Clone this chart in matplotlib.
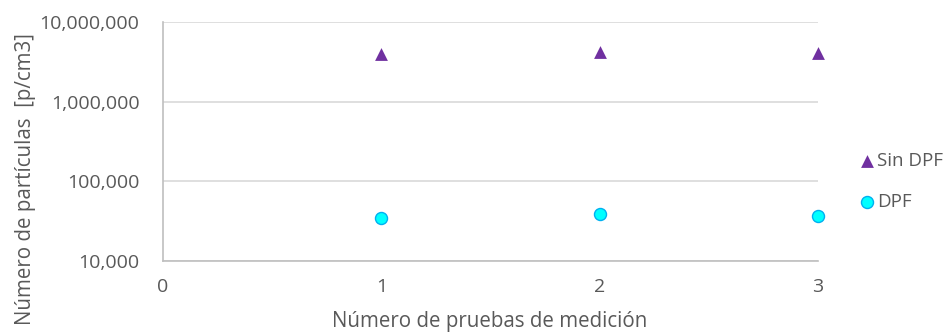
import matplotlib
matplotlib.use("Agg")
import matplotlib.pyplot as plt
from matplotlib.ticker import FuncFormatter, FixedLocator, NullLocator

plt.rcParams['font.family'] = ['Open Sans', 'DejaVu Sans']

pruebas = [1, 2, 3]
sin_dpf = [4020000, 4260000, 4130000]
dpf = [34500, 39200, 36600]
x_ticks = [0, 1, 2, 3]
y_ticks = [1e4, 1e5, 1e6, 1e7]

txt = '#595959'
fig = plt.figure(figsize=(9.44, 3.33), dpi=100)
ax = fig.add_axes([163/944, 1-261/333, (818-163)/944, (261-22)/333])

ax.scatter(pruebas, sin_dpf, marker='^', s=85, color='#7030A0', label='Sin DPF',
           zorder=3, linewidths=0, clip_on=False)
ax.scatter(pruebas, dpf, marker='o', s=75, facecolor='#00FFFF', edgecolor='#00B0F0',
           linewidths=1.0, label='DPF', zorder=3, clip_on=False)

ax.set_yscale('log')
ax.set_ylim(1e4, 1e7)
ax.set_xlim(0, 3)
ax.yaxis.set_major_locator(FixedLocator(y_ticks))
ax.yaxis.set_minor_locator(NullLocator())
ax.yaxis.set_major_formatter(FuncFormatter(lambda v, p: f'{int(round(v)):,}'))
ax.set_xticks(x_ticks)

ax.grid(axis='y', color='#d9d9d9', linewidth=1.2)
ax.set_axisbelow(True)
for s in ['top', 'right']:
    ax.spines[s].set_visible(False)
ax.spines['left'].set_color('#bfbfbf')
ax.spines['bottom'].set_color('#bfbfbf')
ax.spines['left'].set_linewidth(1.2)
ax.spines['bottom'].set_linewidth(1.2)
ax.tick_params(length=0, labelsize=14, colors=txt)
ax.tick_params(axis='x', pad=12)
ax.tick_params(axis='y', pad=17)

fig.text(490/944, 1-321/333, 'Número de pruebas de medición', fontsize=14.8, color=txt,
         ha='center', va='center')
fig.text(26/944, 1-179/333, 'Número de partículas  [p/cm3]', fontsize=14.8, color=txt,
         ha='center', va='center', rotation=90)

leg = fig.legend(loc='upper left', bbox_to_anchor=(851/944, 1-143/333), frameon=False,
                 handlelength=0.75, handletextpad=0.15, labelspacing=1.2, fontsize=13.5,
                 borderpad=0)
for t in leg.get_texts():
    t.set_color(txt)

fig.savefig('out.png', dpi=100)
